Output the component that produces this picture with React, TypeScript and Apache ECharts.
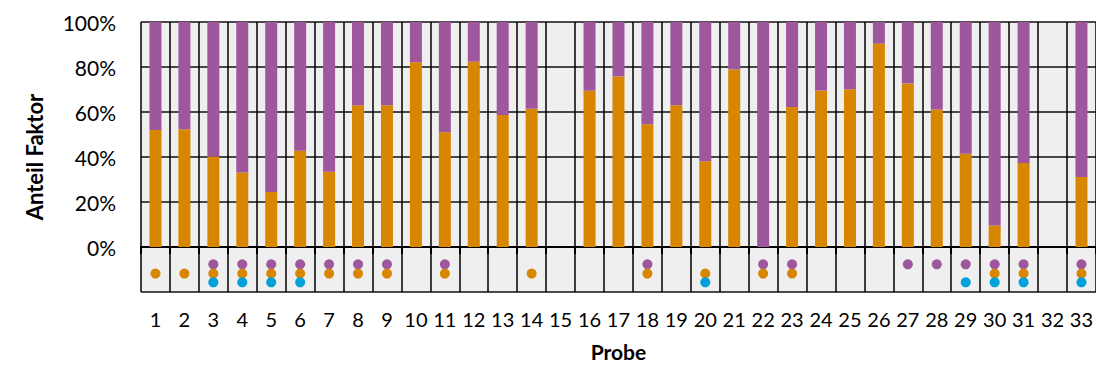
import React, { useEffect, useRef } from "react";
import * as echarts from "echarts";

const categories = Array.from({ length: 33 }, (_, i) => String(i + 1));

// Orange share (%) per sample; null = no bar
const orangeShare: (number | null)[] = [
  52, 52.3, 40.2, 33.1, 24.5, 42.8, 33.4, 63, 63, 82.1, 51, 82.4, 58.7, 61.5, null,
  69.5, 75.8, 54.6, 63, 38.1, 78.9, 0, 62.2, 69.6, 70.1, 90.4, 72.7, 61.1, 41.5, 9.6,
  37.3, null, 31.1,
];
// Purple share (%) per sample
const purpleShare: (number | null)[] = [
  48, 47.7, 59.8, 66.9, 75.5, 57.2, 66.6, 37, 37, 17.9, 49, 17.6, 41.3, 38.5, null,
  30.5, 24.2, 45.4, 37, 61.9, 21.1, 100, 37.8, 30.4, 29.9, 9.6, 27.3, 38.9, 58.5, 90.4,
  62.7, null, 68.9,
];

// Samples in which each factor marker is present
const purpleMarks = [3, 4, 5, 6, 7, 8, 9, 11, 18, 22, 23, 27, 28, 29, 30, 31, 33];
const orangeMarks = [1, 2, 3, 4, 5, 6, 7, 8, 9, 11, 14, 18, 20, 22, 23, 30, 31, 33];
const blueMarks = [3, 4, 5, 6, 20, 29, 30, 31, 33];

// Row levels of the marker rows below 0 %
const purpleRow = -7.7;
const orangeRow = -11.8;
const blueRow = -15.7;

const yTicks = [-20, 0, 20, 40, 60, 80, 100];

const ORANGE = "#D88600";
const PURPLE = "#9E579C";
const BLUE = "#00A0DB";

const markerData = (marks: number[], row: number) =>
  categories.map((c) => (marks.includes(Number(c)) ? row : null));

export default function App() {
  const ref = useRef<HTMLDivElement>(null);
  useEffect(() => {
    document.body.style.margin = "0";
    const chart = echarts.init(ref.current!, null, { renderer: "svg" });
    const font = "Lato";
    chart.setOption({
      animation: false,
      grid: {
        left: 141,
        top: 22,
        right: -4,
        bottom: 73,
        show: true,
        backgroundColor: "#efefef",
        borderWidth: 0,
      },
      xAxis: {
        type: "category",
        data: categories,
        name: "Probe",
        nameLocation: "middle",
        nameGap: 49,
        nameTextStyle: { fontFamily: font, fontWeight: "bold", fontSize: 21, color: "#000" },
        axisLine: { show: true, lineStyle: { color: "#000", width: 2 } },
        axisTick: { show: true, interval: 0, length: 7, lineStyle: { color: "#000", width: 2 } },
        axisLabel: { interval: 0, fontFamily: font, fontSize: 20, color: "#000", margin: 17 },
        splitLine: { show: true, interval: 0, lineStyle: { color: "#000", width: 1.5 } },
      },
      yAxis: {
        type: "value",
        min: yTicks[0],
        max: yTicks[yTicks.length - 1],
        interval: 20,
        name: "Anteil Faktor",
        nameLocation: "middle",
        nameGap: 96,
        nameTextStyle: { fontFamily: font, fontWeight: "bold", fontSize: 22, color: "#000" },
        axisLine: { show: false },
        axisTick: { show: false },
        axisLabel: {
          fontFamily: font,
          fontSize: 21,
          color: "#000",
          margin: 25,
          formatter: (v: number) => (v < 0 ? "" : v + "%"),
        },
        splitLine: { show: true, lineStyle: { color: "#111", width: 1.5 } },
      },
      series: [
        {
          type: "bar",
          stack: "share",
          data: orangeShare,
          barWidth: 12,
          itemStyle: { color: ORANGE },
        },
        {
          type: "bar",
          stack: "share",
          data: purpleShare,
          barWidth: 12,
          itemStyle: { color: PURPLE },
        },
        {
          type: "scatter",
          data: markerData(purpleMarks, purpleRow),
          symbolSize: 10,
          itemStyle: { color: PURPLE, opacity: 1 },
        },
        {
          type: "scatter",
          data: markerData(orangeMarks, orangeRow),
          symbolSize: 10,
          itemStyle: { color: ORANGE, opacity: 1 },
        },
        {
          type: "scatter",
          data: markerData(blueMarks, blueRow),
          symbolSize: 10,
          itemStyle: { color: BLUE, opacity: 1 },
        },
      ],
    });
    return () => chart.dispose();
  }, []);
  return <div ref={ref} style={{ width: 1096, height: 367 }} />;
}
